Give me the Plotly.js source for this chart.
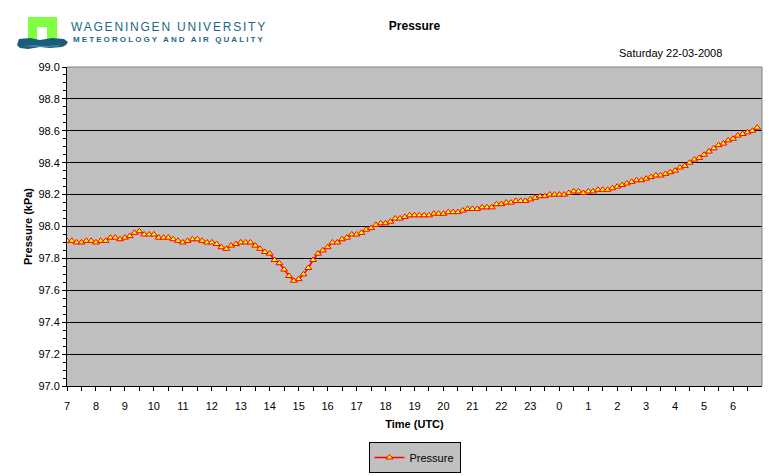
<!DOCTYPE html>
<html>
<head>
<meta charset="utf-8">
<script src="https://cdn.plot.ly/plotly-3.0.1.min.js"></script>
<style>
  body { margin: 0; background: #fff; }
  #wrap { position: relative; width: 776px; height: 476px; }
  #chart { width: 776px; height: 476px; }
  #logo { position: absolute; left: 0; top: 0; width: 300px; height: 60px; pointer-events: none; }
  .wur1 { position: absolute; left: 71px; top: 20px; font: 12px "Liberation Sans", Arial, sans-serif;
          letter-spacing: 1.8px; color: #1d6788; white-space: nowrap; }
  .wur2 { position: absolute; left: 73px; top: 35px; font: bold 8px "Liberation Sans", Arial, sans-serif;
          letter-spacing: 2.1px; color: #1d6788; white-space: nowrap; }
</style>
</head>
<body>
<div id="wrap">
  <div id="chart"></div>
  <div id="logo">
    <svg width="80" height="60" style="position:absolute;left:0;top:0">
      <rect x="28" y="17" width="29" height="25" fill="#80ff40"/>
      <rect x="37" y="27" width="10" height="15" fill="#ffffff"/>
      <path d="M19,39 L30,38 L40,40 L52,38 L64,39 L68,42 L66,45 L62,47 L50,48 L40,47 L28,49 L20,48 L17,45 Z" fill="#1b5c7c"/>
      <path d="M22,46 L34,45 L46,46 L58,45 L62,46 L50,47 L36,47 Z" fill="#3f86a3"/>
    </svg>
    <div class="wur1">WAGENINGEN UNIVERSITY</div>
    <div class="wur2">METEOROLOGY AND AIR QUALITY</div>
  </div>
</div>
<script>
/* ─── Pressure, 10-minute values from 07:00 UTC ─── */

const hourLabels = ['7', '8', '9', '10', '11', '12', '13', '14', '15', '16', '17', '18',
                    '19', '20', '21', '22', '23', '0', '1', '2', '3', '4', '5', '6'];
const stepMinutes = 10;

const pressure = [
    97.91, 97.91, 97.90, 97.90, 97.91, 97.91,
    97.90, 97.91, 97.91, 97.93, 97.93, 97.92,
    97.93, 97.94, 97.96, 97.97, 97.95, 97.95,
    97.95, 97.93, 97.93, 97.93, 97.92, 97.91,
    97.90, 97.91, 97.92, 97.92, 97.91, 97.90,
    97.90, 97.89, 97.87, 97.86, 97.88, 97.89,
    97.90, 97.90, 97.90, 97.88, 97.86, 97.84,
    97.83, 97.79, 97.77, 97.73, 97.69, 97.66,
    97.67, 97.70, 97.74, 97.79, 97.83, 97.85,
    97.87, 97.90, 97.90, 97.92, 97.93, 97.95,
    97.95, 97.96, 97.98, 97.99, 98.01, 98.02,
    98.02, 98.03, 98.05, 98.05, 98.06, 98.07,
    98.07, 98.07, 98.07, 98.07, 98.08, 98.08,
    98.08, 98.09, 98.09, 98.09, 98.10, 98.11,
    98.11, 98.11, 98.12, 98.12, 98.12, 98.14,
    98.14, 98.15, 98.15, 98.16, 98.16, 98.16,
    98.17, 98.18, 98.19, 98.19, 98.20, 98.20,
    98.20, 98.20, 98.21, 98.22, 98.22, 98.21,
    98.22, 98.22, 98.23, 98.23, 98.23, 98.24,
    98.25, 98.26, 98.27, 98.28, 98.29, 98.29,
    98.30, 98.31, 98.32, 98.32, 98.33, 98.34,
    98.35, 98.37, 98.38, 98.40, 98.42, 98.43,
    98.45, 98.47, 98.49, 98.51, 98.52, 98.54,
    98.55, 98.57, 98.58, 98.59, 98.60, 98.62,
];

const FONT = '"Liberation Sans", Arial, sans-serif';

// hours since first sample
const xs = pressure.map((_, i) => i * stepMinutes / 60);

// labels on the hour, blank tick on the half hour
const tickvals = [], ticktext = [];
hourLabels.forEach((h, i) => {
    tickvals.push(i, i + 0.5);
    ticktext.push(h, '');
});

const trace = {
    x: xs,
    y: pressure,
    type: 'scatter',
    mode: 'lines+markers',
    name: 'Pressure',
    line: { color: '#ff0000', width: 1.5 },
    marker: { symbol: 'triangle-up', size: 6, color: '#ffff00', line: { color: '#ff0000', width: 1 } },
};

const layout = {
    width: 776,
    height: 476,
    margin: { l: 67, r: 14, t: 67, b: 90 },
    paper_bgcolor: '#ffffff',
    plot_bgcolor: '#c0c0c0',
    font: { family: FONT, size: 11, color: '#000' },
    title: {
        text: '<b>Pressure</b>',
        font: { family: FONT, size: 12, color: '#000' },
        x: 0.5, xref: 'paper', xanchor: 'center',
        y: 1 - 26 / 476, yref: 'container', yanchor: 'middle',
    },
    xaxis: {
        range: [0, hourLabels.length],
        tickmode: 'array',
        tickvals: tickvals,
        ticktext: ticktext,
        ticks: 'outside',
        ticklen: 4,
        tickcolor: '#000',
        ticklabelstandoff: 6,
        showgrid: false,
        zeroline: false,
        showline: true,
        linecolor: '#000',
        linewidth: 1,
        automargin: false,
        title: { text: '<b>Time (UTC)</b>', font: { family: FONT, size: 11 }, standoff: 9 },
        fixedrange: true,
    },
    yaxis: {
        range: [97.0, 99.0],
        dtick: 0.2,
        tick0: 97.0,
        tickformat: '.1f',
        ticks: 'outside',
        ticklen: 4,
        tickcolor: '#000',
        minor: { dtick: 0.05, ticks: 'outside', ticklen: 3, tickcolor: '#000', showgrid: false },
        showgrid: true,
        gridcolor: '#000',
        gridwidth: 1,
        zeroline: false,
        showline: true,
        linecolor: '#000',
        linewidth: 1,
        automargin: false,
        title: { text: '<b>Pressure (kPa)</b>', font: { family: FONT, size: 11 }, standoff: 3 },
        fixedrange: true,
    },
    showlegend: true,
    legend: {
        orientation: 'h',
        x: 0.5, xanchor: 'center',
        xref: 'paper',
        y: (476 - 442) / 476, yanchor: 'top',
        yref: 'container',
        bgcolor: '#c0c0c0',
        bordercolor: '#000',
        borderwidth: 1,
        font: { family: FONT, size: 11 },
    },
    shapes: [
        { type: 'line', xref: 'paper', yref: 'paper', x0: 0, x1: 1, y0: 1, y1: 1, line: { color: '#808080', width: 1 } },
        { type: 'line', xref: 'paper', yref: 'paper', x0: 1, x1: 1, y0: 0, y1: 1, line: { color: '#808080', width: 1 } },
    ],
    annotations: [
        {
            text: 'Saturday 22-03-2008',
            xref: 'paper', yref: 'paper',
            x: (724 - 67) / 695, xanchor: 'right',
            y: 1.045, yanchor: 'middle',
            showarrow: false,
            font: { family: FONT, size: 11, color: '#000' },
        },
    ],
};

Plotly.newPlot('chart', [trace], layout, { displayModeBar: false, staticPlot: true });
</script>
</body>
</html>
